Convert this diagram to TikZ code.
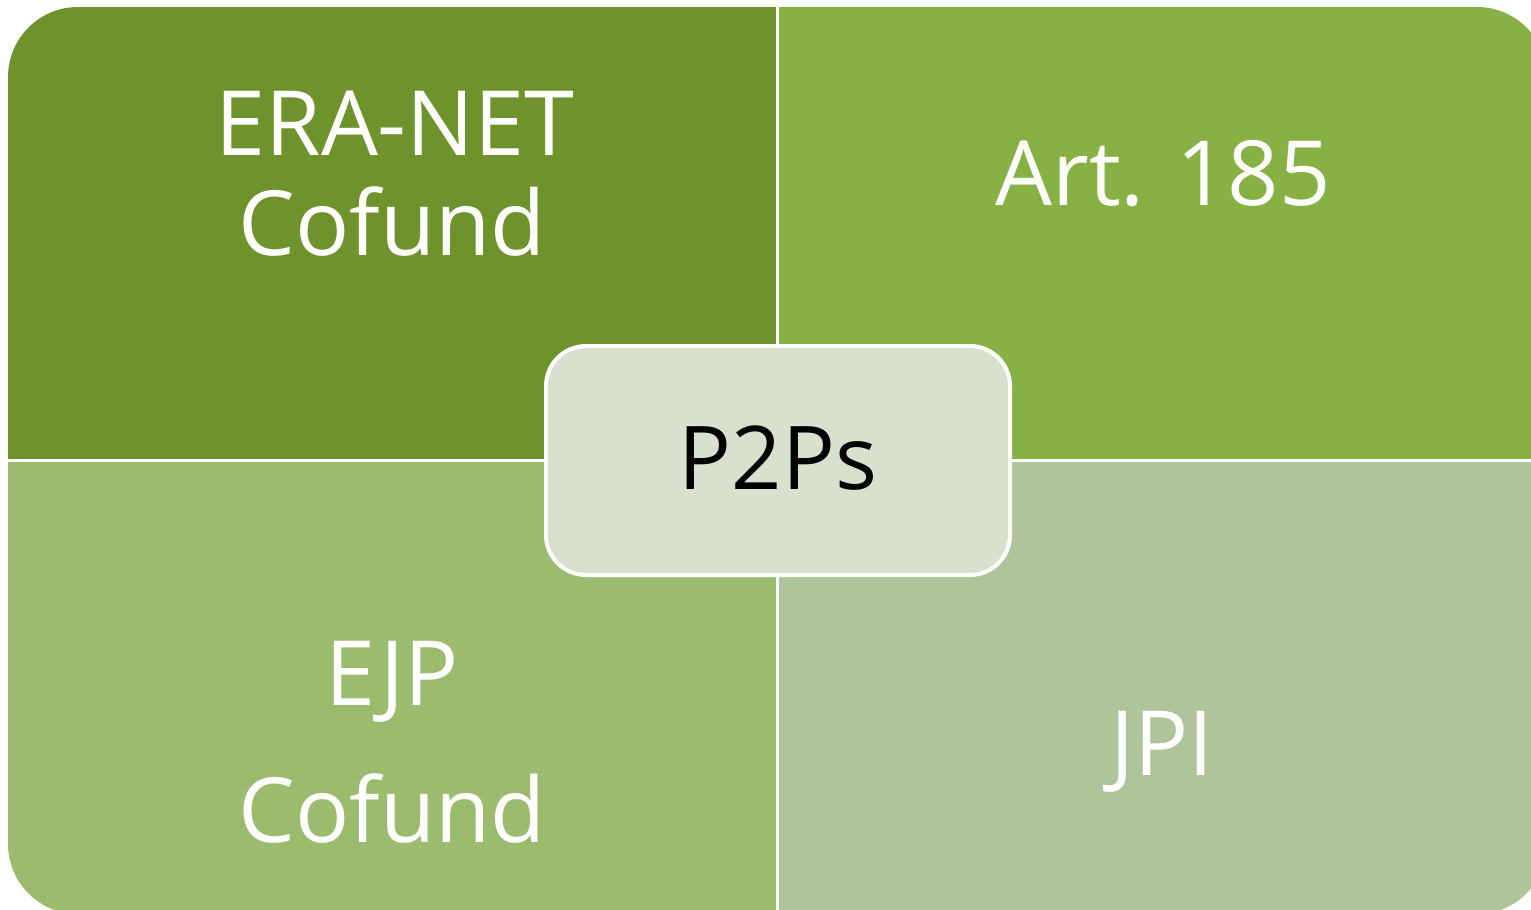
\documentclass[tikz,border=0pt]{standalone}
\usepackage{fontspec}
\setmainfont{Open Sans}
\definecolor{eranet}{HTML}{6E932C}
\definecolor{artcol}{HTML}{87B144}
\definecolor{ejpcol}{HTML}{9BBC6F}
\definecolor{jpicol}{HTML}{AFC49A}
\definecolor{p2pcol}{HTML}{D8E1CD}
\begin{document}
\begin{tikzpicture}[x=0.5pt, y=-0.5pt,
		lbl/.style={text=white, anchor=base, inner sep=0pt, font=\fontsize{45}{54}\selectfont},
		p2pbox/.style={draw=white, line width=2pt, fill=p2pcol, rounded corners=20pt,
			minimum width=232pt, minimum height=114.5pt, inner sep=0pt,
			text height=33pt, text depth=4.5pt, font=\fontsize{44}{53}\selectfont}]
	\useasboundingbox (0,0) rectangle (1531,910);
	\begin{scope}
		\clip[rounded corners=35pt] (8,7) rectangle (1547,914);
		\fill[eranet] (8,7) rectangle (776,459);
		\fill[artcol] (779,7) rectangle (1547,459);
		\fill[ejpcol] (8,462) rectangle (776,914);
		\fill[jpicol] (779,462) rectangle (1547,914);
	\end{scope}
	\node[lbl] (era) at (395,155) {ERA-NET};
	\node[lbl] (eracof) at (392,255) {Cofund};
	\node[lbl] (art) at (1163,205) {Art. 185};
	\node[lbl] (ejp) at (392,705) {EJP};
	\node[lbl] (ejpcof) at (392,842) {Cofund};
	\node[lbl] (jpi) at (1162,775) {JPI};
	\node[p2pbox] (p2p) at (778,460.5) {P2Ps};
\end{tikzpicture}
\end{document}
